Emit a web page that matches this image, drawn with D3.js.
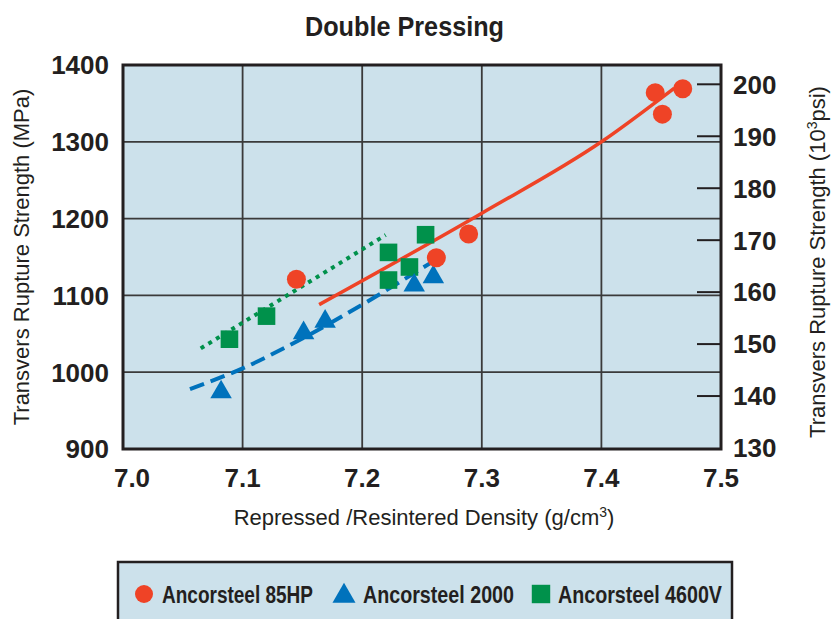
<!DOCTYPE html>
<html><head><meta charset="utf-8">
<script src="https://cdn.jsdelivr.net/npm/d3@7/dist/d3.min.js"></script>
<style>
html,body{margin:0;padding:0;background:#fff;}
svg{display:block;}
</style></head>
<body><svg id="c" width="831" height="619"></svg>
<script>
// ---- data ----
const xTicks = [7.0, 7.1, 7.2, 7.3, 7.4, 7.5];
const yTicksMPa = [900, 1000, 1100, 1200, 1300, 1400];
const yTicksKsi = [130, 140, 150, 160, 170, 180, 190, 200];

const hp85X = [7.145, 7.262, 7.289, 7.445, 7.451, 7.468];
const hp85Y = [1121, 1149, 1180, 1364, 1336, 1369];
const a2000X = [7.082, 7.151, 7.169, 7.2435, 7.2595];
const a2000Y = [974, 1051, 1066, 1113, 1124];
const v4600X = [7.089, 7.120, 7.222, 7.2395, 7.222, 7.253];
const v4600Y = [1043, 1073, 1120, 1137, 1156, 1179];

const hp85LineX = [7.164, 7.300, 7.400, 7.461];
const hp85LineY = [1088, 1207, 1300, 1370];
const a2000LineX = [7.056, 7.100, 7.150, 7.200, 7.258];
const a2000LineY = [978, 1005, 1044, 1088, 1143];
const v4600LineX = [7.065, 7.2196];
const v4600LineY = [1031, 1178.6];

const seriesNames = ["Ancorsteel 85HP", "Ancorsteel 2000", "Ancorsteel 4600V"];

// ---- style ----
const RED = "#ef4326", BLUE = "#0072bc", GREEN = "#00914b";
const BG = "#cce1eb", INK = "#231f20", GRID = "#3a3a3a";
const BOLD = "'Liberation Sans', Arial, sans-serif";

const svg = d3.select("#c");
const L = 123, R = 721, T = 65, B = 449;
const x = d3.scaleLinear().domain([7.0, 7.5]).range([L, R]);
const y = d3.scaleLinear().domain([900, 1400]).range([B, T]);
const y2 = d3.scaleLinear().domain([130, 200]).range([448, 84.3]);

// plot background
svg.append("rect").attr("x", L).attr("y", T).attr("width", R - L).attr("height", B - T)
  .attr("fill", BG);

// grid
svg.append("g").selectAll("line").data(xTicks.slice(1, -1)).join("line")
  .attr("x1", d => x(d)).attr("x2", d => x(d)).attr("y1", T).attr("y2", B)
  .attr("stroke", GRID).attr("stroke-width", 1.8);
svg.append("g").selectAll("line").data(yTicksMPa.slice(1, -1)).join("line")
  .attr("y1", d => y(d)).attr("y2", d => y(d)).attr("x1", L).attr("x2", R)
  .attr("stroke", GRID).attr("stroke-width", 1.8);

// right inner ticks
svg.append("g").selectAll("line").data(yTicksKsi.slice(1)).join("line")
  .attr("y1", d => y2(d)).attr("y2", d => y2(d)).attr("x1", R - 24).attr("x2", R)
  .attr("stroke", INK).attr("stroke-width", 2);

// border
svg.append("rect").attr("x", L).attr("y", T).attr("width", R - L).attr("height", B - T)
  .attr("fill", "none").attr("stroke", INK).attr("stroke-width", 3);

// tick labels
svg.append("g").selectAll("text").data(yTicksMPa).join("text")
  .attr("x", 109).attr("y", d => y(d)).attr("dy", "0.36em")
  .attr("text-anchor", "end").attr("font-family", BOLD).attr("font-weight", "bold")
  .attr("font-size", 26).attr("fill", INK).text(d => d);
svg.append("g").selectAll("text").data(yTicksKsi).join("text")
  .attr("x", 733).attr("y", d => y2(d)).attr("dy", "0.36em")
  .attr("text-anchor", "start").attr("font-family", BOLD).attr("font-weight", "bold")
  .attr("font-size", 26).attr("fill", INK).text(d => d);
svg.append("g").selectAll("text").data(xTicks).join("text")
  .attr("x", (d, i) => x(d) + (i === 0 ? 9 : 0)).attr("y", 487)
  .attr("text-anchor", "middle").attr("font-family", BOLD).attr("font-weight", "bold")
  .attr("font-size", 26).attr("fill", INK).text(d => d.toFixed(1));

// titles
svg.append("text").attr("x", 305).attr("y", 36)
  .attr("font-family", BOLD).attr("font-weight", "bold").attr("font-size", 28)
  .attr("textLength", 199).attr("lengthAdjust", "spacingAndGlyphs")
  .attr("fill", INK).text("Double Pressing");

const xl = svg.append("text").attr("x", 424).attr("y", 525).attr("text-anchor", "middle")
  .attr("font-family", BOLD).attr("font-size", 22).attr("fill", INK);
xl.append("tspan").text("Repressed /Resintered Density (g/cm");
xl.append("tspan").attr("dy", -8).attr("font-size", 14).text("3");
xl.append("tspan").attr("dy", 8).text(")");

svg.append("text").attr("transform", "translate(29,257) rotate(-90)").attr("text-anchor", "middle")
  .attr("font-family", BOLD).attr("font-size", 22).attr("fill", INK)
  .text("Transvers Rupture Strength (MPa)");

const yl2 = svg.append("text").attr("transform", "translate(825,262) rotate(-90)").attr("text-anchor", "middle")
  .attr("font-family", BOLD).attr("font-size", 22).attr("fill", INK);
yl2.append("tspan").text("Transvers Rupture Strength (10");
yl2.append("tspan").attr("dy", -8).attr("font-size", 14).text("3");
yl2.append("tspan").attr("dy", 8).text("psi)");

// lines
const lineGen = d3.line().x(d => x(d[0])).y(d => y(d[1])).curve(d3.curveMonotoneX);
const g = svg.append("g");
g.append("path").datum(v4600LineX.map((v, i) => [v, v4600LineY[i]])).attr("d", lineGen)
  .attr("fill", "none").attr("stroke", GREEN).attr("stroke-width", 4).attr("stroke-dasharray", "4,5");
g.append("path").datum(a2000LineX.map((v, i) => [v, a2000LineY[i]])).attr("d", lineGen)
  .attr("fill", "none").attr("stroke", BLUE).attr("stroke-width", 4).attr("stroke-dasharray", "15,7");
g.append("path").datum(hp85LineX.map((v, i) => [v, hp85LineY[i]])).attr("d", lineGen)
  .attr("fill", "none").attr("stroke", RED).attr("stroke-width", 3.5);

// markers
const tri = d3.symbol().type(d3.symbolTriangle).size(200);
const sq = d3.symbol().type(d3.symbolSquare).size(310);
g.append("g").selectAll("path").data(v4600X.map((v, i) => [v, v4600Y[i]])).join("path")
  .attr("d", sq).attr("transform", d => `translate(${x(d[0])},${y(d[1])})`).attr("fill", GREEN);
g.append("g").selectAll("path").data(a2000X.map((v, i) => [v, a2000Y[i]])).join("path")
  .attr("d", tri).attr("transform", d => `translate(${x(d[0])},${y(d[1])})`).attr("fill", BLUE);
g.append("g").selectAll("circle").data(hp85X.map((v, i) => [v, hp85Y[i]])).join("circle")
  .attr("cx", d => x(d[0])).attr("cy", d => y(d[1])).attr("r", 9.5).attr("fill", RED);

// legend
const lg = svg.append("g");
lg.append("rect").attr("x", 118).attr("y", 562).attr("width", 614).attr("height", 80)
  .attr("fill", BG).attr("stroke", INK).attr("stroke-width", 2.5);
const legendItems = [
  { name: seriesNames[0], mx: 144, tx: 162, tw: 151, sym: "circle", color: RED },
  { name: seriesNames[1], mx: 344, tx: 363, tw: 151, sym: "tri", color: BLUE },
  { name: seriesNames[2], mx: 541, tx: 558, tw: 164, sym: "sq", color: GREEN }
];
legendItems.forEach(it => {
  if (it.sym === "circle") lg.append("circle").attr("cx", it.mx).attr("cy", 594).attr("r", 9).attr("fill", it.color);
  else if (it.sym === "tri") lg.append("path").attr("d", d3.symbol().type(d3.symbolTriangle).size(230))
    .attr("transform", `translate(${it.mx},596)`).attr("fill", it.color);
  else lg.append("path").attr("d", d3.symbol().type(d3.symbolSquare).size(340))
    .attr("transform", `translate(${it.mx},594)`).attr("fill", it.color);
  lg.append("text").attr("x", it.tx).attr("y", 603).attr("font-family", BOLD).attr("font-weight", "bold")
    .attr("font-size", 23).attr("textLength", it.tw).attr("lengthAdjust", "spacingAndGlyphs")
    .attr("fill", INK).text(it.name);
});
</script></body></html>
